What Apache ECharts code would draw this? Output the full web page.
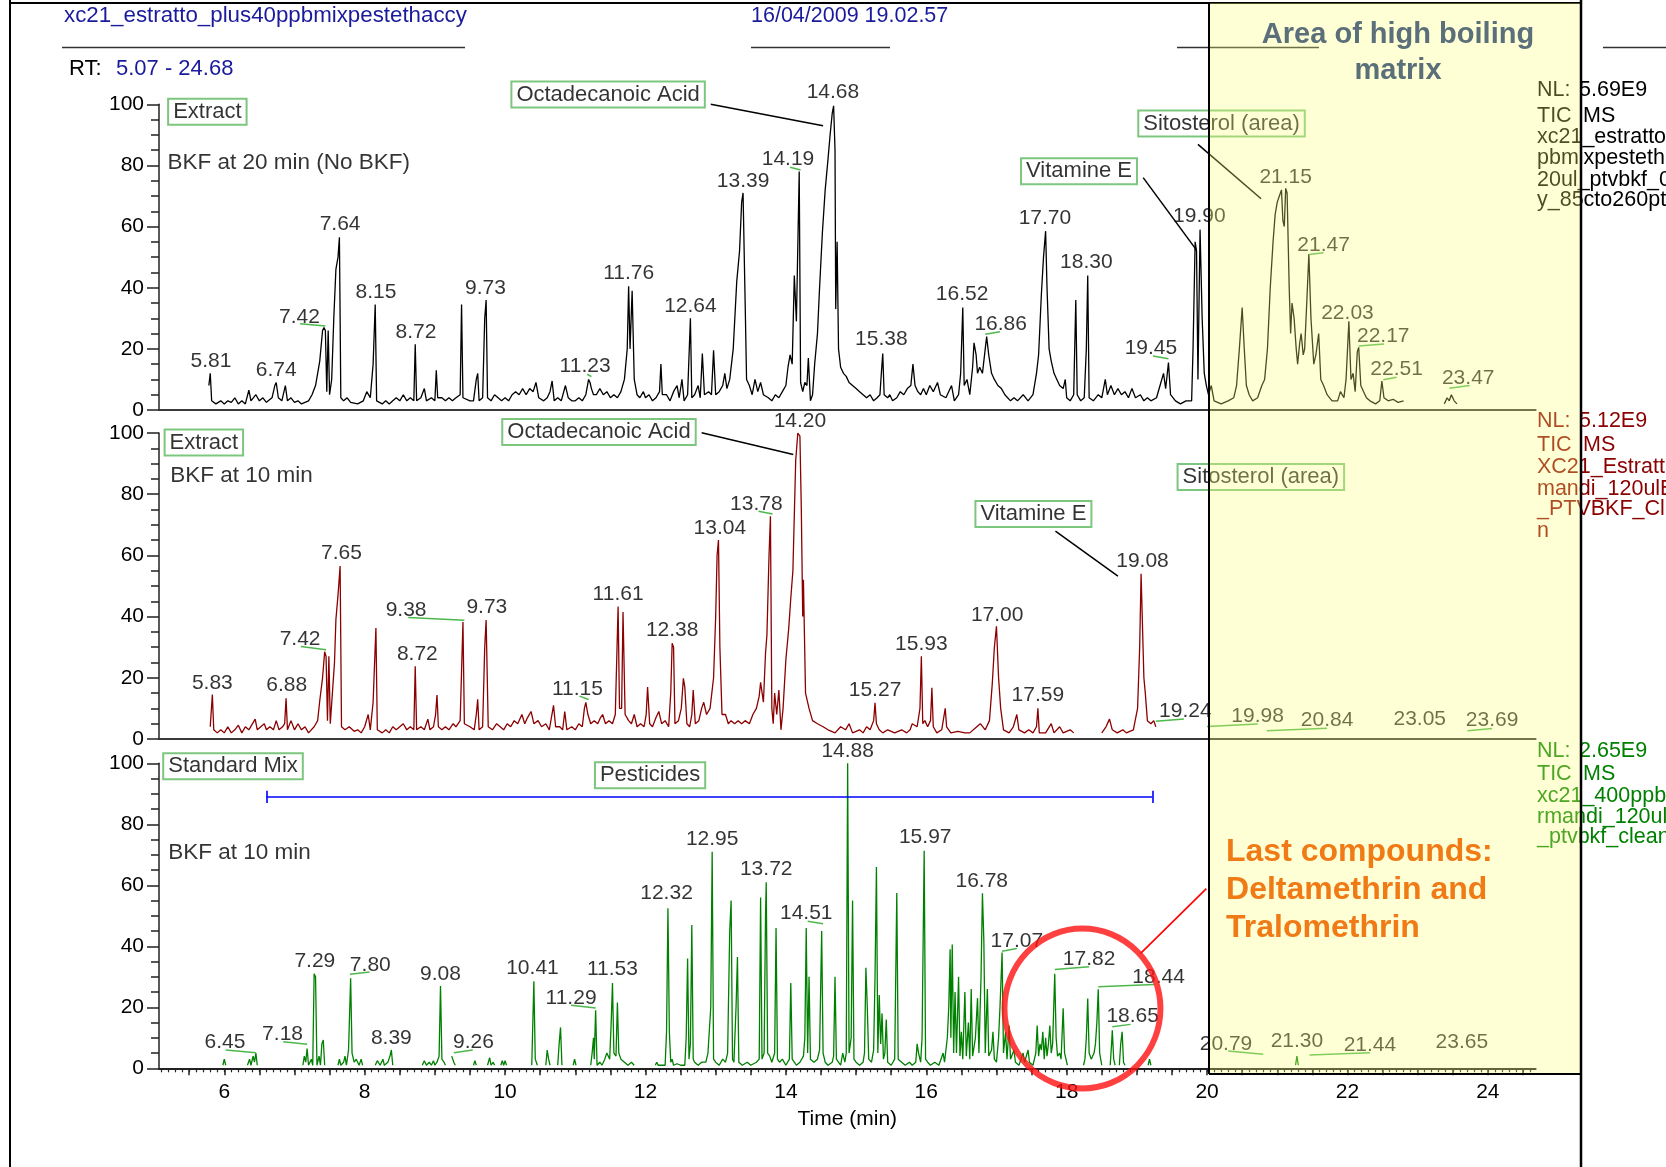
<!DOCTYPE html>
<html><head><meta charset="utf-8">
<script src="https://cdn.jsdelivr.net/npm/echarts@6/dist/echarts.min.js"></script>
<style>html,body{margin:0;padding:0;background:#fff}#c{width:1666px;height:1167px}</style>
</head><body><div id="c"></div>
<script>
const G = '-';
// ---------- traces (time min, relative abundance %) ----------
const trace1 = [
[5.78,8],[5.80,12],[5.82,3],[5.88,2],[5.95,3],[6.00,2],[6.05,3],[6.10,2.5],[6.15,4],[6.20,2],[6.25,3],[6.30,2],[6.35,6.5],[6.38,3],[6.45,5],[6.50,3],[6.55,4],[6.60,2.5],[6.68,4],[6.72,8],[6.74,9],[6.77,4],[6.82,3],[6.87,8],[6.90,3],[6.95,4],[7.00,2.5],[7.05,3],[7.10,2],[7.20,3],[7.25,5],[7.30,8],[7.33,12],[7.36,16],[7.40,26],[7.42,27],[7.44,26],[7.46,6],[7.48,26],[7.50,5],[7.53,10],[7.56,30],[7.59,46],[7.62,50],[7.64,56.5],[7.66,4],[7.70,3],[7.75,4],[7.80,2.5],[7.90,2],[7.98,3],[8.03,6],[8.08,4],[8.12,15],[8.15,34.5],[8.17,3],[8.25,2],[8.30,3],[8.35,2],[8.40,3],[8.45,4],[8.50,3],[8.55,5],[8.60,3],[8.65,4],[8.70,3],[8.72,21.5],[8.74,3],[8.80,4],[8.85,7],[8.88,3],[8.95,4],[9.00,3],[9.02,13],[9.04,4],[9.10,4],[9.15,3],[9.20,4],[9.25,3],[9.30,4],[9.36,5],[9.38,34.5],[9.40,4],[9.50,3],[9.55,3],[9.59,10],[9.61,12],[9.63,3],[9.68,4],[9.71,30],[9.73,36],[9.75,4],[9.80,3],[9.85,5],[9.90,4],[9.95,3],[10.00,4],[10.05,3],[10.10,5],[10.15,6],[10.20,5],[10.25,7],[10.30,5],[10.35,7],[10.40,6],[10.44,9],[10.48,4],[10.55,3],[10.60,4],[10.64,6],[10.67,9.5],[10.70,3],[10.75,4],[10.80,3],[10.86,8],[10.90,4],[10.95,3],[11.00,3],[11.05,4],[11.10,3],[11.15,5],[11.19,10],[11.21,9],[11.23,7],[11.26,5],[11.30,5],[11.35,7],[11.40,5],[11.45,6],[11.50,4],[11.55,5],[11.60,4],[11.65,6],[11.70,10],[11.74,20],[11.76,40.5],[11.78,20],[11.81,39],[11.84,10],[11.88,5],[11.92,4],[11.97,6],[12.00,4],[12.05,5],[12.10,3],[12.15,4],[12.20,6],[12.22,15],[12.24,5],[12.30,5],[12.35,3],[12.40,6],[12.45,8],[12.48,4],[12.52,10],[12.55,3],[12.60,5],[12.64,30],[12.66,4],[12.70,5],[12.75,8],[12.78,4],[12.81,18.5],[12.84,5],[12.90,6],[12.94,5],[12.97,19.5],[13.00,5],[13.05,6],[13.10,8],[13.13,12],[13.16,7],[13.20,10],[13.25,20],[13.30,42],[13.34,52],[13.37,68],[13.39,71],[13.42,35],[13.44,10],[13.48,8],[13.52,5],[13.56,10],[13.60,6],[13.64,9],[13.68,5],[13.75,4],[13.80,3],[13.85,5],[13.90,4],[13.95,6],[14.00,8],[14.03,14],[14.06,18],[14.09,15],[14.12,44],[14.15,29],[14.19,78],[14.21,9],[14.24,6],[14.27,9],[14.30,8],[14.32,17],[14.35,3],[14.38,5],[14.41,15],[14.45,25],[14.48,40],[14.52,58],[14.56,72],[14.60,82],[14.63,90],[14.66,97],[14.68,99.5],[14.70,85],[14.71,33],[14.73,55],[14.75,20],[14.78,14],[14.82,12],[14.86,11],[14.90,9],[14.95,8],[15.00,7],[15.05,6],[15.10,5],[15.15,4],[15.20,5],[15.25,3],[15.30,4],[15.34,5],[15.36,12],[15.38,18.5],[15.40,5],[15.45,4],[15.48,5],[15.52,3],[15.58,4],[15.63,6],[15.68,5],[15.73,7],[15.78,8],[15.81,15],[15.84,8],[15.88,6],[15.92,5],[15.96,7],[16.00,5],[16.05,8],[16.10,6],[16.16,9],[16.20,5],[16.28,4],[16.36,8],[16.40,3],[16.46,5],[16.49,12],[16.52,33.5],[16.54,8],[16.58,10],[16.62,5],[16.66,14],[16.68,22],[16.71,18],[16.73,12],[16.76,14],[16.80,12],[16.84,20],[16.86,24],[16.89,18],[16.93,12],[16.97,10],[17.02,8],[17.07,7],[17.12,5],[17.20,3],[17.25,4],[17.30,3],[17.38,5],[17.45,3],[17.52,5],[17.57,12],[17.60,18],[17.64,38],[17.67,50],[17.70,58.5],[17.72,40],[17.75,20],[17.78,16],[17.82,12],[17.86,10],[17.90,8],[17.95,7],[17.98,10],[18.00,4],[18.05,3],[18.10,5],[18.13,36],[18.15,5],[18.20,3],[18.25,4],[18.28,20],[18.30,44],[18.32,4],[18.38,3],[18.45,5],[18.50,4],[18.55,10],[18.58,5],[18.63,8],[18.68,5],[18.73,7],[18.78,5],[18.83,6],[18.88,4],[18.93,7],[18.98,4],[19.05,5],[19.10,3],[19.15,4],[19.20,3],[19.28,4],[19.33,8],[19.38,12],[19.41,7],[19.45,15.5],[19.48,5],[19.55,3],[19.62,2],[19.70,3],[19.78,3],[19.80,20],[19.83,55],[19.85,52],[19.87,10],[19.90,59],[19.93,30],[19.96,12],[19.99,8],[20.02,5],[20.06,8],[20.10,3],[20.20,2],[20.30,3],[20.38,4],[20.42,8],[20.46,20],[20.50,33.5],[20.53,20],[20.56,8],[20.60,5],[20.65,3],[20.72,4],[20.78,8],[20.82,10],[20.86,20],[20.90,40],[20.94,55],[20.97,64],[21.00,68],[21.03,70],[21.06,72],[21.08,62],[21.10,60],[21.12,72.5],[21.14,71],[21.17,40],[21.19,25],[21.21,35],[21.24,30],[21.27,20],[21.29,15],[21.32,22],[21.34,25],[21.37,18],[21.39,20],[21.42,35],[21.45,51],[21.48,30],[21.52,15],[21.55,18],[21.59,25],[21.62,10],[21.66,8],[21.71,5],[21.78,3],[21.86,3],[21.90,6],[21.95,4],[21.98,10],[22.02,29],[22.05,10],[22.08,12],[22.11,6],[22.14,19],[22.16,20.5],[22.19,8],[22.23,6],[22.27,4],[22.32,3],[22.40,2],[22.46,3],[22.49,9.5],[22.52,4],[22.58,3],[22.65,3.5],[22.72,2.5],[22.80,3],[22.84,G],[23.38,2],[23.42,4],[23.45,3],[23.48,5],[23.52,3],[23.56,2]
];
const trace2 = [
[5.80,4],[5.83,14.5],[5.85,3],[5.90,2],[5.95,3],[6.00,2],[6.05,4],[6.10,2],[6.15,3],[6.20,4.5],[6.25,2],[6.30,4],[6.35,3],[6.44,6.5],[6.47,3],[6.52,4],[6.57,5],[6.60,3],[6.65,4],[6.70,3],[6.74,6],[6.78,3],[6.83,4],[6.86,5],[6.88,13.3],[6.90,3],[6.95,6],[7.00,3],[7.05,5],[7.10,3],[7.15,4],[7.20,2],[7.28,4],[7.33,6],[7.36,12.5],[7.40,20],[7.43,28.5],[7.45,27],[7.47,6],[7.49,27],[7.51,5],[7.54,15],[7.57,25],[7.59,39],[7.62,47],[7.65,56.5],[7.67,4],[7.72,3],[7.78,4],[7.85,2.5],[7.90,3],[7.95,2],[8.00,4],[8.05,8],[8.08,3],[8.12,12],[8.16,36.3],[8.18,3],[8.25,2],[8.30,3],[8.35,2],[8.40,4],[8.45,3],[8.50,4],[8.55,5],[8.60,3],[8.65,4],[8.70,3],[8.72,23.8],[8.74,3],[8.80,4],[8.85,3],[8.90,6.5],[8.93,3],[8.98,4],[9.01,8],[9.03,14.4],[9.05,4],[9.10,3],[9.15,4],[9.20,3],[9.26,5],[9.30,4],[9.36,6],[9.40,38.2],[9.42,5],[9.50,4],[9.56,3],[9.59,8],[9.61,13],[9.63,3],[9.68,4],[9.71,30],[9.73,38.9],[9.76,4],[9.82,3],[9.88,5],[9.93,4],[9.98,3],[10.03,5],[10.08,4],[10.13,6],[10.18,5],[10.24,8],[10.28,5],[10.32,7],[10.37,9],[10.41,5],[10.47,6],[10.52,4],[10.58,5],[10.63,3],[10.69,11],[10.72,4],[10.78,4],[10.82,3],[10.85,9],[10.88,3],[10.95,4],[11.00,3],[11.05,5],[11.10,4],[11.13,10],[11.15,12],[11.18,8],[11.22,5],[11.27,6],[11.32,5],[11.36,7],[11.39,8],[11.43,5],[11.48,6],[11.53,5],[11.57,8],[11.61,43.3],[11.63,10],[11.66,10],[11.68,41.5],[11.71,8],[11.76,6],[11.80,5],[11.84,8],[11.88,4],[11.93,5],[11.98,4],[12.01,8],[12.03,17],[12.06,5],[12.10,4],[12.15,7],[12.19,9],[12.23,5],[12.28,6],[12.33,4],[12.36,15],[12.38,31.3],[12.40,30],[12.42,5],[12.47,6],[12.51,10],[12.54,19.8],[12.56,17],[12.59,5],[12.63,4],[12.66,8],[12.68,16],[12.71,5],[12.76,6],[12.80,10],[12.83,12],[12.87,8],[12.92,10],[12.97,20],[13.00,40],[13.02,60],[13.04,65],[13.06,30],[13.09,8],[13.14,8],[13.18,5],[13.22,6],[13.27,5],[13.32,6],[13.37,5],[13.42,6],[13.48,5],[13.53,8],[13.58,10],[13.62,14],[13.64,18.5],[13.68,12],[13.71,28],[13.73,34],[13.76,60],[13.78,72.8],[13.80,10],[13.82,5],[13.84,15],[13.87,8],[13.90,16],[13.93,3],[13.96,10],[14.00,26],[14.04,36],[14.07,46],[14.10,55],[14.14,91],[14.17,100],[14.20,99],[14.22,75],[14.24,40],[14.25,52],[14.28,15],[14.33,10],[14.38,6],[14.45,5],[14.53,4],[14.60,3],[14.70,2],[14.78,4],[14.85,3],[14.90,5],[14.95,2],[15.05,3],[15.10,2],[15.15,4],[15.20,3],[15.25,6],[15.27,11.8],[15.29,5],[15.33,3],[15.38,2],[15.45,3],[15.55,2],[15.65,3],[15.72,2],[15.77,3],[15.80,5],[15.87,4],[15.91,10],[15.93,27],[15.95,5],[15.98,6],[16.02,4],[16.06,6],[16.08,16.7],[16.10,4],[16.15,2],[16.22,3],[16.27,10],[16.29,4],[16.35,2],[16.45,2.5],[16.55,2],[16.62,2],[16.72,4],[16.77,5],[16.84,3],[16.90,6],[16.94,18],[16.97,30],[17.00,36.8],[17.03,20],[17.06,10],[17.10,3],[17.18,2],[17.24,4],[17.29,8],[17.32,3],[17.40,2],[17.46,3],[17.52,2],[17.57,4],[17.59,10],[17.61,2],[17.70,2],[17.78,5],[17.82,2],[17.90,4],[17.95,2],[18.05,3],[18.10,2],[18.20,G],[18.50,2],[18.56,4],[18.61,6.5],[18.65,3],[18.72,2],[18.80,3],[18.85,2],[18.95,3],[19.01,10],[19.04,30],[19.06,54],[19.08,54.3],[19.10,20],[19.12,15],[19.15,6],[19.20,5],[19.24,6],[19.27,4]
];
const trace3 = [
[5.98,1],[6.00,3],[6.02,1],[6.10,G],[6.33,1],[6.36,3],[6.38,1],[6.41,4],[6.43,2],[6.45,5],[6.47,1],[6.60,G],[7.12,1],[7.14,4],[7.16,2],[7.18,6.5],[7.20,1],[7.24,3],[7.26,1],[7.28,31],[7.30,30],[7.32,1],[7.35,4],[7.37,1],[7.39,8],[7.41,9.3],[7.43,1],[7.50,G],[7.62,1],[7.64,3],[7.66,1],[7.70,2],[7.72,4],[7.74,1],[7.77,6],[7.80,29.5],[7.82,5],[7.85,2],[7.88,3],[7.92,1],[7.95,3],[7.97,1],[8.05,G],[8.15,1],[8.18,2.5],[8.22,1],[8.26,3],[8.28,1],[8.33,2],[8.36,4],[8.38,6],[8.40,1],[8.60,G],[8.82,1],[8.85,2.5],[8.88,1],[8.92,2],[8.95,1],[8.98,2.5],[9.00,1],[9.03,2],[9.06,4],[9.08,27],[9.10,3],[9.13,2],[9.15,1],[9.20,G],[9.24,4],[9.27,2],[9.29,1],[9.40,G],[9.55,1],[9.57,2.5],[9.59,1],[9.65,G],[9.75,1],[9.78,3.5],[9.80,1],[9.83,2],[9.85,1],[9.90,G],[9.94,1],[9.96,2.5],[9.98,1],[10.00,2.5],[10.02,1],[10.20,G],[10.38,1],[10.41,28.5],[10.43,3],[10.46,1],[10.52,G],[10.58,1],[10.60,6],[10.62,3],[10.64,1],[10.70,G],[10.75,1],[10.77,8],[10.79,13.4],[10.81,1],[10.90,G],[10.97,1],[10.99,3],[11.01,1],[11.10,G],[11.22,1],[11.24,5],[11.26,10],[11.27,3],[11.29,19],[11.31,1],[11.35,2],[11.38,1],[11.42,3],[11.45,5],[11.49,3],[11.51,14],[11.53,28],[11.55,5],[11.58,4],[11.60,21.6],[11.62,5],[11.65,3],[11.70,2],[11.75,1],[11.80,2],[11.84,1],[12.00,G],[12.14,1],[12.16,2],[12.18,1],[12.28,1],[12.30,12],[12.32,52.5],[12.34,12],[12.36,2],[12.38,3],[12.40,1],[12.45,1.5],[12.50,1],[12.56,1],[12.58,10],[12.60,36],[12.62,3],[12.64,8],[12.66,47],[12.68,3],[12.70,2],[12.75,1],[12.80,2],[12.86,2],[12.89,5],[12.91,5],[12.93,20],[12.95,71],[12.97,3],[13.00,2],[13.05,1],[13.10,3],[13.14,2],[13.17,5],[13.20,45],[13.22,55],[13.24,3],[13.26,2],[13.29,20],[13.31,36.5],[13.33,2],[13.38,1],[13.45,2],[13.50,1],[13.58,2],[13.62,3],[13.64,56],[13.66,3],[13.69,5],[13.71,50],[13.72,61],[13.74,5],[13.77,4],[13.80,2],[13.84,5],[13.86,46],[13.88,3],[13.91,2],[13.95,3],[14.00,1],[14.05,3],[14.07,28],[14.09,3],[14.12,2],[14.15,1],[14.20,2],[14.25,4],[14.27,10],[14.29,46],[14.31,5],[14.33,30],[14.35,3],[14.40,2],[14.45,3],[14.48,6],[14.51,45],[14.53,5],[14.56,2],[14.60,1],[14.66,2],[14.68,4],[14.70,30],[14.72,3],[14.75,2],[14.78,1],[14.81,5],[14.84,2],[14.86,5],[14.88,100],[14.90,5],[14.93,10],[14.95,55],[14.97,3],[15.00,2],[15.05,1],[15.10,2],[15.12,5],[15.14,33],[15.16,20],[15.18,3],[15.22,2],[15.25,6],[15.27,30],[15.29,66],[15.31,5],[15.33,24],[15.35,8],[15.37,18],[15.39,3],[15.41,5],[15.43,16],[15.45,2],[15.50,1],[15.55,3],[15.58,57.5],[15.60,3],[15.65,2],[15.70,1],[15.76,2],[15.80,1],[15.85,2],[15.87,8],[15.89,5],[15.92,2],[15.94,10],[15.97,71.3],[15.99,3],[16.02,2],[16.06,1],[16.12,2],[16.18,1],[16.24,5],[16.26,2],[16.30,10],[16.32,20],[16.34,39],[16.35,10],[16.37,40.6],[16.39,5],[16.41,25],[16.43,5],[16.46,30],[16.48,4],[16.50,12],[16.52,3],[16.55,25],[16.57,4],[16.60,15],[16.62,3],[16.64,26],[16.66,4],[16.70,10],[16.73,23],[16.75,5],[16.78,30],[16.80,57.4],[16.82,42],[16.84,5],[16.87,26],[16.89,4],[16.93,6],[16.95,12],[16.97,3],[17.00,2],[17.03,10],[17.05,20],[17.08,38],[17.10,5],[17.13,12],[17.15,3],[17.18,14],[17.20,3],[17.25,6],[17.27,2],[17.32,1],[17.38,5],[17.40,2],[17.45,6],[17.47,2],[17.52,1],[17.56,5],[17.58,14],[17.60,4],[17.62,8],[17.64,6],[17.66,12],[17.68,3],[17.70,10],[17.72,4],[17.74,8],[17.76,14],[17.78,5],[17.80,8],[17.83,31],[17.85,10],[17.87,4],[17.90,5],[17.92,3],[17.95,19.7],[17.97,5],[17.99,3],[18.01,1],[18.10,G],[18.24,1],[18.26,3],[18.28,10],[18.30,22.9],[18.32,5],[18.35,3],[18.39,5],[18.41,8],[18.43,15],[18.45,25.9],[18.47,5],[18.50,1],[18.55,G],[18.62,1],[18.64,8],[18.65,12.5],[18.67,3],[18.69,1],[18.72,G],[18.75,1],[18.77,8],[18.79,12],[18.81,2],[18.83,1],[19.00,G],[19.16,1],[19.18,3],[19.20,1],[20.00,G],[21.26,1],[21.28,4],[21.30,1]
];
// ---------- peak labels [t, v, text] ----------
const peakLabels1 = [[5.81,15.8,'5.81'],[6.74,12.9,'6.74'],[7.07,30.5,'7.42'],[7.65,60.7,'7.64'],[8.16,38.5,'8.15'],[8.73,25.6,'8.72'],[9.72,39.8,'9.73'],[11.14,14.4,'11.23'],[11.76,44.7,'11.76'],[12.64,33.8,'12.64'],[13.39,74.9,'13.39'],[14.03,82,'14.19'],[14.67,103.9,'14.68'],[15.36,23.1,'15.38'],[16.51,37.9,'16.52'],[17.06,28,'16.86'],[17.69,62.9,'17.70'],[18.28,48.2,'18.30'],[19.20,20.2,'19.45'],[19.89,63.5,'19.90'],[21.12,76,'21.15'],[21.66,54,'21.47'],[22.00,31.8,'22.03'],[22.51,24.3,'22.17'],[22.70,13.2,'22.51'],[23.72,10.5,'23.47']];
const peakLabels2 = [[5.83,18.2,'5.83'],[6.89,17.7,'6.88'],[7.08,32.7,'7.42'],[7.67,60.7,'7.65'],[8.59,42.2,'9.38'],[9.74,43,'9.73'],[8.75,27.6,'8.72'],[11.03,16.4,'11.15'],[11.61,47.3,'11.61'],[12.38,35.7,'12.38'],[13.06,69,'13.04'],[13.58,76.7,'13.78'],[14.20,103.7,'14.20'],[15.27,16.1,'15.27'],[15.93,31.1,'15.93'],[17.01,40.3,'17.00'],[17.59,14.2,'17.59'],[19.08,58.1,'19.08'],[19.69,9.1,'19.24'],[20.72,7.4,'19.98'],[21.71,6,'20.84'],[23.03,6.5,'23.05'],[24.06,6,'23.69']];
const peakLabels3 = [[6.01,8.5,'6.45'],[6.83,11.1,'7.18'],[7.29,35.2,'7.29'],[8.08,33.8,'7.80'],[8.38,10,'8.39'],[9.08,31,'9.08'],[9.55,8.5,'9.26'],[10.39,32.7,'10.41'],[10.94,23.1,'11.29'],[11.53,32.4,'11.53'],[12.30,57.3,'12.32'],[12.95,75.2,'12.95'],[13.72,65.4,'13.72'],[14.29,50.7,'14.51'],[14.88,103.9,'14.88'],[15.985,75.8,'15.97'],[16.79,61.4,'16.78'],[17.29,41.7,'17.07'],[18.32,35.8,'17.82'],[19.31,30,'18.44'],[18.94,17.1,'18.65'],[20.27,8,'20.79'],[21.28,8.9,'21.30'],[22.32,7.6,'21.44'],[23.63,8.7,'23.65']];
// leader lines [t1, v1, t2, v2]
const leaders1 = [[7.08,28.2,7.44,27.5],[11.17,11.7,11.23,10.9],[14.06,79.4,14.21,78.5],[16.84,24.8,17.05,25.6],[19.23,17.7,19.45,16.8],[21.45,50.9,21.66,51.4],[22.16,20.9,22.52,21.6],[22.51,9.9,22.70,10.7],[23.45,7.1,23.74,8]];
const leaders2 = [[7.09,30.2,7.45,29.2],[8.62,39.7,9.42,38.8],[11.06,14,11.19,12.9],[13.61,74.4,13.81,73.5],[19.27,5.8,19.67,6.5],[20.0,4.1,20.72,4.9],[20.85,2.7,21.71,3.5],[23.71,2.7,24.06,3.4]];
const leaders3 = [[6.02,6,6.45,5.1],[6.84,8.7,7.18,7.9],[7.79,30.8,8.07,31.6],[9.27,5.1,9.54,6],[10.94,20.7,11.29,19.8],[14.31,48.2,14.53,47.4],[17.08,38.4,17.29,39.3],[17.83,32.4,18.32,33.3],[18.45,26.7,19.25,27.5],[18.65,13.6,18.91,14.4],[20.30,5.7,20.80,4.6],[21.46,4.4,22.32,5.1]];
// callout lines
const callouts1 = [[12.93,100,14.53,93],[19.09,76,19.85,52.3],[19.87,86.9,20.77,69.1]];
const callouts2 = [[12.80,100.1,14.105,93],[17.84,67.9,18.73,53.2]];
// boxed annotations [t_left, v_center, text]
const boxes1 = [[5.20,97.6,'Extract'],[10.09,103.2,'Octadecanoic Acid'],[17.35,78.1,'Vitamine E'],[19.02,93.7,'Sitosterol (area)']];
const boxes2 = [[5.15,96.9,'Extract'],[9.96,100.3,'Octadecanoic Acid'],[16.70,73.5,'Vitamine E'],[19.58,85.6,'Sitosterol (area)']];
const boxes3 = [[5.13,99,'Standard Mix'],[11.28,96.1,'Pesticides']];
const notes1 = [[5.19,80.9,'BKF at 20 min (No BKF)']];
const notes2 = [[5.23,85.9,'BKF at 10 min']];
const notes3 = [[5.20,70.6,'BKF at 10 min']];
const pesticideRange = [[6.60,89,19.22,89],[6.60,87,6.60,91],[19.22,87,19.22,91]];
const circleMark = [[18.225,19.6]];
const circleLine = [[19.05,37.6,19.99,58.9]];
const lastCompounds = [[20.27,70.9,'Last compounds:'],[20.27,58.3,'Deltamethrin and'],[20.27,45.8,'Tralomethrin']];
// axis ticks
const xLabelTicks = [6,8,10,12,14,16,18,20,22,24];
const xHalfTicks = [5.5,6,6.5,7,7.5,8,8.5,9,9.5,10,10.5,11,11.5,12,12.5,13,13.5,14,14.5,15,15.5,16,16.5,17,17.5,18,18.5,19,19.5,20,20.5,21,21.5,22,22.5,23,23.5,24,24.5];
const xMinorTicks = []; for (let k = 51; k <= 246; k++) xMinorTicks.push(k / 10);

const FONT = "'Liberation Sans', Arial, Helvetica, sans-serif";
const TMIN = 5.07, TMAX = 24.68;
const gridsPos = [{top:104.3,height:305.7},{top:433,height:306},{top:763.3,height:305}];
const traceColors = ['#000000','#8b0000','#008000'];

const chart = echarts.init(document.getElementById('c'), null, {renderer:'canvas', width:1666, height:1167});

const xAxes = gridsPos.map((g,i)=>({
  gridIndex:i, type:'value', min:TMIN, max:TMAX, position:'bottom',
  axisLine:{show:true, onZero:false, lineStyle:{color: i<2 ? '#3a3a3a' : '#222', width:2}},
  axisTick: i<2 ? {show:false} : {show:true, customValues:xHalfTicks, length:7, lineStyle:{color:'#222', width:1.5}},
  axisLabel: i<2 ? {show:false} : {show:true, customValues:xLabelTicks, fontSize:21, color:'#000', margin:13, fontFamily:FONT},
  splitLine:{show:false},
  name: i===2 ? 'Time (min)' : '', nameLocation:'middle', nameGap:40,
  nameTextStyle:{fontSize:21, color:'#000', fontFamily:FONT}
}));
xAxes.push({gridIndex:2, type:'value', min:TMIN, max:TMAX, position:'bottom',
  axisLine:{show:false}, axisTick:{show:true, customValues:xMinorTicks, length:4, lineStyle:{color:'#222', width:1.2}},
  axisLabel:{show:false}, splitLine:{show:false}});
const yAxes = gridsPos.map((g,i)=>({
  gridIndex:i, type:'value', min:0, max:100, interval:20,
  axisLine:{show:true, lineStyle:{color:'#222', width:1.5}},
  axisTick:{show:true, length:12, lineStyle:{color:'#222', width:1.5}},
  minorTick:{show:true, splitNumber:4, length:8, lineStyle:{color:'#222', width:1.5}},
  axisLabel:{fontSize:21, color:'#000', margin:15, fontFamily:FONT},
  splitLine:{show:false}, minorSplitLine:{show:false}
}));

const series = [];
[trace1, trace2, trace3].forEach((d,i)=>series.push({
  type:'line', xAxisIndex:i, yAxisIndex:i, data:d, showSymbol:false, symbol:'none', connectNulls:false,
  lineStyle:{color:traceColors[i], width:1.3}, silent:true, animation:false, z:2
}));
function textSeries(i, arr, label, z) {
  return {type:'scatter', xAxisIndex:i, yAxisIndex:i, symbolSize:1, silent:true, clip:false, animation:false, z:z||3,
    itemStyle:{color:'rgba(0,0,0,0)'},
    data:arr.map(a=>({name:a[2], value:[a[0],a[1]]})),
    label:Object.assign({show:true, position:'inside', formatter:p=>p.name, fontFamily:FONT, color:'#000'}, label)};
}
function lineSeries(i, arr, color, width, z) {
  return {type:'lines', coordinateSystem:'cartesian2d', xAxisIndex:i, yAxisIndex:i, silent:true, clip:false, animation:false, z:z||3,
    data:arr.map(a=>({coords:[[a[0],a[1]],[a[2],a[3]]]})),
    lineStyle:{color, width, opacity:1, type:'solid'}};
}
const peakSets = [peakLabels1, peakLabels2, peakLabels3];
const leaderSets = [leaders1, leaders2, leaders3];
const boxSets = [boxes1, boxes2, boxes3];
const noteSets = [notes1, notes2, notes3];
for (let i = 0; i < 3; i++) {
  series.push(textSeries(i, peakSets[i], {fontSize:21}));
  series.push(lineSeries(i, leaderSets[i], '#4cb84c', 1.5));
  series.push(textSeries(i, boxSets[i], {fontSize:22, align:'left', verticalAlign:'middle', borderColor:'#5cb85c', borderWidth:2, padding:[3,5,1,5]}));
  series.push(textSeries(i, noteSets[i], {fontSize:22.5, align:'left', verticalAlign:'middle'}));
}
series.push(lineSeries(0, callouts1, '#000', 1.5));
series.push(lineSeries(1, callouts2, '#000', 1.5));
series.push(lineSeries(2, pesticideRange, '#0000ff', 1.6));
series.push(lineSeries(2, circleLine, '#ff0000', 1.6, 150));
series.push({type:'scatter', xAxisIndex:2, yAxisIndex:2, data:circleMark, symbol:'circle', symbolSize:[156,160], clip:false, silent:true, animation:false, z:150,
  itemStyle:{color:'rgba(0,0,0,0)', borderColor:'#ff1010', borderWidth:6}});

chart.setOption({
  animation:false,
  backgroundColor:'#ffffff',
  textStyle:{fontFamily:FONT},
  grid: gridsPos.map(g=>({left:159, width:1376.6, top:g.top, height:g.height, containLabel:false, outerBoundsMode:'none'})),
  xAxis: xAxes,
  yAxis: yAxes,
  series
});

// static page texts, frame, overlay
const T = (x, y, text, fill, size, extra, z) => ({type:'text', x, y, z:z||50,
  style:Object.assign({text, fill, fontSize:size, fontFamily:FONT, align:'left', verticalAlign:'middle'}, extra||{})});
const L = (x1, y1, x2, y2, stroke, w, z) => ({type:'line', z:z||50, shape:{x1,y1,x2,y2}, style:{stroke, lineWidth:w}});
const graphics = [
  T(64, 16, 'xc21_estratto_plus40ppbmixpestethaccy', '#1a1a9c', 22.3),
  T(751, 16, '16/04/2009 19.02.57', '#1a1a9c', 21.5),
  L(62, 47.5, 465, 47.5, '#333', 1.5), L(751, 47.5, 890, 47.5, '#333', 1.5),
  L(1177, 47.5, 1319, 47.5, '#333', 1.5), L(1603, 47.5, 1666, 47.5, '#333', 1.5),
  T(69, 69, 'RT:', '#000', 22), T(116, 69, '5.07 - 24.68', '#1a1a9c', 22),
  T(1537, 90, 'NL:', '#000', 21.5), T(1579, 90, '5.69E9', '#000', 21.5),
  T(1537, 116, 'TIC', '#000', 21.5), T(1583, 116, 'MS', '#000', 21.5),
  T(1537, 137, 'xc21_estratto', '#000', 21.5), T(1537, 158, 'pbmixpesteth', '#000', 21.5),
  T(1537, 180, '20ul_ptvbkf_0', '#000', 21.5), T(1537, 200, 'y_85cto260pt', '#000', 21.5),
  T(1537, 421, 'NL:', '#8b0000', 21.5), T(1579, 421, '5.12E9', '#8b0000', 21.5),
  T(1537, 445, 'TIC', '#8b0000', 21.5), T(1583, 445, 'MS', '#8b0000', 21.5),
  T(1537, 467, 'XC21_Estratt', '#8b0000', 21.5), T(1537, 489, 'mandi_120ulB', '#8b0000', 21.5),
  T(1537, 509, '_PTVBKF_Cl', '#8b0000', 21.5), T(1537, 531, 'n', '#8b0000', 21.5),
  T(1537, 751, 'NL:', '#008000', 21.5), T(1579, 751, '2.65E9', '#008000', 21.5),
  T(1537, 774, 'TIC', '#008000', 21.5), T(1583, 774, 'MS', '#008000', 21.5),
  T(1537, 796, 'xc21_400ppb', '#008000', 21.5), T(1537, 817, 'rmandi_120ul', '#008000', 21.5),
  T(1537, 837, '_ptvbkf_clean', '#008000', 21.5),
  L(10, 0, 10, 1167, '#000', 2), L(10, 3, 1581, 3, '#000', 2),
  {type:'rect', z:100, shape:{x:1209, y:3, width:372, height:1071}, style:{fill:'rgba(255,255,120,0.30)'}},
  L(1209, 3, 1209, 1074, '#000', 2, 101), L(1209, 1074, 1581, 1074, '#000', 2, 101), L(1581, 0, 1581, 1167, '#000', 2.5, 101),
  T(1398, 35, 'Area of high boiling', '#5b6f7b', 29, {align:'center', fontWeight:'bold'}, 300),
  T(1398, 71, 'matrix', '#5b6f7b', 29, {align:'center', fontWeight:'bold'}, 300)
];
// orange note placed from its data coordinates
lastCompounds.forEach(a => {
  const p = chart.convertToPixel({xAxisIndex:2, yAxisIndex:2}, [a[0], a[1]]);
  graphics.push(T(p[0], p[1], a[2], '#f07a16', 32, {fontWeight:'bold'}, 300));
});
chart.setOption({graphic: graphics});
</script></body></html>
